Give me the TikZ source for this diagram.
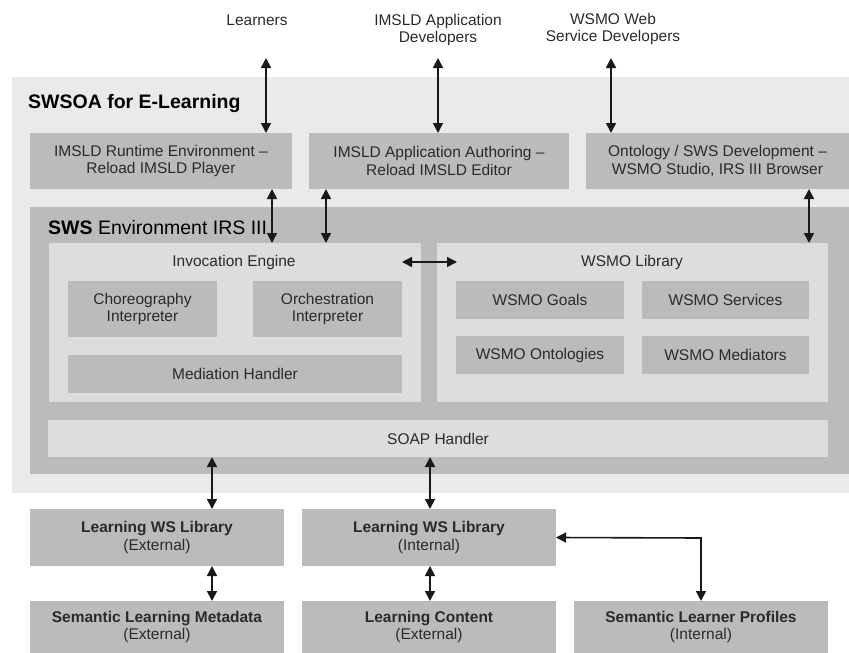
\documentclass[tikz,border=0pt]{standalone}
\usepackage{fontspec}
\setmainfont{Liberation Sans}
\usetikzlibrary{arrows.meta}

\definecolor{outergray}{HTML}{EAEAEA}
\definecolor{boxgray}{HTML}{BBBBBB}
\definecolor{panelgray}{HTML}{DDDDDD}
\definecolor{txtgray}{HTML}{2A2A2A}

\tikzset{
  box/.style={fill=boxgray, draw=none, inner sep=0pt, outer sep=0pt, align=center, text=txtgray,
    font=\fontsize{15.5}{17.5}\selectfont},
  panel/.style={box, fill=panelgray},
  title/.style={anchor=west, inner sep=0pt, text=black, font=\fontsize{19.5}{22}\selectfont},
  plain/.style={inner sep=0pt, align=center, text=txtgray, font=\fontsize{15.5}{17.5}\selectfont},
  biarrow/.style={{Triangle[length=10pt,width=10pt]}-{Triangle[length=10pt,width=10pt]}, line width=1.6pt, draw=black!90},
}

\begin{document}
\begin{tikzpicture}[x=1pt,y=-1pt]
\useasboundingbox (0,0) rectangle (849,653);

% actors
\node[plain] (learners) at (257,20) {Learners};
\node[plain] (imsldev) at (438,30) {IMSLD Application\\Developers};
\node[plain] (wsmodev) at (613,29) {WSMO Web\\Service Developers};

% SWSOA frame
\node[box, fill=outergray, minimum width=837pt, minimum height=416pt] (swsoa) at (430.5,285) {};
\node[title] (swsoatitle) at (28,103) {\bfseries SWSOA for E-Learning};

\node[box, minimum width=262pt, minimum height=56pt] (runtime) at (161,161) {IMSLD Runtime Environment –\\Reload IMSLD Player};
\node[box, minimum width=260pt, minimum height=56pt] (authoring) at (439,161) {IMSLD Application Authoring –\\Reload IMSLD Editor};
\node[box, minimum width=263pt, minimum height=56pt] (ontodev) at (717.5,161) {Ontology / SWS Development –\\WSMO Studio, IRS III Browser};

% IRS III
\node[box, minimum width=819pt, minimum height=267pt] (sws) at (439.5,340.5) {};
\node[title] (swstitle) at (48,228) {\textbf{SWS} Environment IRS III};

\node[panel, minimum width=372pt, minimum height=159pt] (invpanel) at (235,322.5) {};
\node[plain] (invtitle) at (234,262) {Invocation Engine};
\node[box, minimum width=149pt, minimum height=56pt] (choreo) at (142.5,309) {Choreography\\Interpreter};
\node[box, minimum width=149pt, minimum height=56pt] (orch) at (327.5,309) {Orchestration\\Interpreter};
\node[box, minimum width=334pt, minimum height=38pt] (mediation) at (235,374) {Mediation Handler};

\node[panel, minimum width=391pt, minimum height=159pt] (libpanel) at (632.5,322.5) {};
\node[plain] (libtitle) at (632,262) {WSMO Library};
\node[box, minimum width=168pt, minimum height=38pt] (goals) at (540,300) {WSMO Goals};
\node[box, minimum width=167pt, minimum height=38pt] (services) at (725.5,300) {WSMO Services};
\node[box, minimum width=168pt, minimum height=38pt] (ontologies) at (540,355) {WSMO Ontologies};
\node[box, minimum width=167pt, minimum height=38pt] (mediators) at (725.5,355) {WSMO Mediators};

\node[panel, minimum width=780pt, minimum height=37pt] (soap) at (438,438.5) {SOAP Handler};

% resources
\node[box, minimum width=254pt, minimum height=57pt] (libext) at (157,537.5) {\textbf{Learning WS Library}\\(External)};
\node[box, minimum width=254pt, minimum height=57pt] (libint) at (429,537.5) {\textbf{Learning WS Library}\\(Internal)};
\node[box, minimum width=254pt, minimum height=52pt] (metadata) at (157,627) {\textbf{Semantic Learning Metadata}\\(External)};
\node[box, minimum width=254pt, minimum height=52pt] (content) at (429,627) {\textbf{Learning Content}\\(External)};
\node[box, minimum width=254pt, minimum height=52pt] (profiles) at (701,627) {\textbf{Semantic Learner Profiles}\\(Internal)};

% arrows
\coordinate (lrnend) at (266,58);
\coordinate (imsend) at (438,58);
\coordinate (wsmend) at (611,58);
\coordinate (colA) at (272,0);
\coordinate (colB) at (326,0);
\coordinate (colC) at (809,0);
\coordinate (colD) at (212,0);
\coordinate (colE) at (430,0);
\coordinate (invend) at (402,262);
\coordinate (libend) at (457,262);
\coordinate (elbow) at (701,538);

\draw[biarrow] (lrnend) -- (lrnend |- runtime.north);
\draw[biarrow] (imsend) -- (imsend |- authoring.north);
\draw[biarrow] (wsmend) -- (wsmend |- ontodev.north);
\draw[biarrow] (colA |- runtime.south) -- (colA |- invpanel.north);
\draw[biarrow] (colB |- authoring.south) -- (colB |- invpanel.north);
\draw[biarrow] (colC |- ontodev.south) -- (colC |- libpanel.north);
\draw[biarrow] (invend) -- (libend);
\draw[biarrow] (colD |- soap.south) -- (colD |- libext.north);
\draw[biarrow] (colE |- soap.south) -- (colE |- libint.north);
\draw[biarrow] (colD |- libext.south) -- (colD |- metadata.north);
\draw[biarrow] (colE |- libint.south) -- (colE |- content.north);
\draw[biarrow] (libint.east) -- (elbow) -- (elbow |- profiles.north);
\end{tikzpicture}
\end{document}
